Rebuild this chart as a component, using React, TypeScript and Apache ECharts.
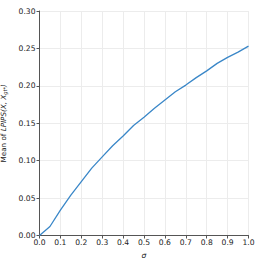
import React, { useEffect, useRef } from "react";
import * as echarts from "echarts";

const sigma = [0, 0.05, 0.1, 0.15, 0.2, 0.25, 0.3, 0.35, 0.4, 0.45, 0.5, 0.55, 0.6, 0.65, 0.7, 0.75, 0.8, 0.85, 0.9, 0.95, 1.0];
const meanLpips = [0, 0.012, 0.034, 0.054, 0.072, 0.09, 0.105, 0.12, 0.133, 0.147, 0.158, 0.17, 0.181, 0.192, 0.201, 0.211, 0.22, 0.23, 0.238, 0.245, 0.253];

export default function App() {
  const ref = useRef<HTMLDivElement>(null);
  useEffect(() => {
    if (!ref.current) return;
    const chart = echarts.init(ref.current, null, { renderer: "svg" });
    const font = "DejaVu Sans";
    chart.setOption({
      animation: false,
      backgroundColor: "#fff",
      grid: { left: 39.5, right: 13.5, top: 11, bottom: 26.5, containLabel: false, outerBoundsMode: "none" },
      xAxis: {
        type: "value",
        min: 0,
        max: 1,
        interval: 0.1,
        name: "σ",
        nameLocation: "middle",
        nameGap: 15,
        nameTextStyle: { fontFamily: font, fontSize: 7.6, fontStyle: "italic", color: "#222" },
        axisLine: { show: true, lineStyle: { color: "#555", width: 1 } },
        axisTick: { show: true, length: 3, lineStyle: { color: "#555" } },
        axisLabel: { fontFamily: font, fontSize: 7.6, color: "#222", margin: 3, formatter: (v: number) => v.toFixed(1) },
        splitLine: { show: true, lineStyle: { color: "#ececec", width: 1 } },
      },
      yAxis: {
        type: "value",
        min: 0,
        max: 0.3,
        interval: 0.05,
        name: "{n|Mean of }{i|LPIPS(X, X}{s|gt*}{i|)}",
        nameLocation: "middle",
        nameGap: 27,
        nameTextStyle: {
          fontFamily: font,
          fontSize: 7.2,
          color: "#222",
          rich: {
            n: { fontFamily: font, fontSize: 7.2, color: "#222" },
            i: { fontFamily: font, fontSize: 7.2, fontStyle: "italic", color: "#222" },
            s: { fontFamily: font, fontSize: 5.2, fontStyle: "italic", color: "#222", verticalAlign: "bottom", padding: [3, 0, 0, 0] },
          },
        },
        axisLine: { show: true, lineStyle: { color: "#555", width: 1 } },
        axisTick: { show: true, length: 3, lineStyle: { color: "#555" } },
        axisLabel: { fontFamily: font, fontSize: 7.6, color: "#222", margin: 4, formatter: (v: number) => v.toFixed(2) },
        splitLine: { show: true, lineStyle: { color: "#ececec", width: 1 } },
      },
      series: [
        {
          type: "line",
          data: sigma.map((s, i) => [s, meanLpips[i]]),
          showSymbol: false,
          symbol: "none",
          lineStyle: { color: "#3a87c8", width: 1.3 },
        },
      ],
    });
    return () => chart.dispose();
  }, []);
  return <div ref={ref} style={{ width: 262, height: 262, position: "absolute", left: 0, top: 0 }} />;
}
